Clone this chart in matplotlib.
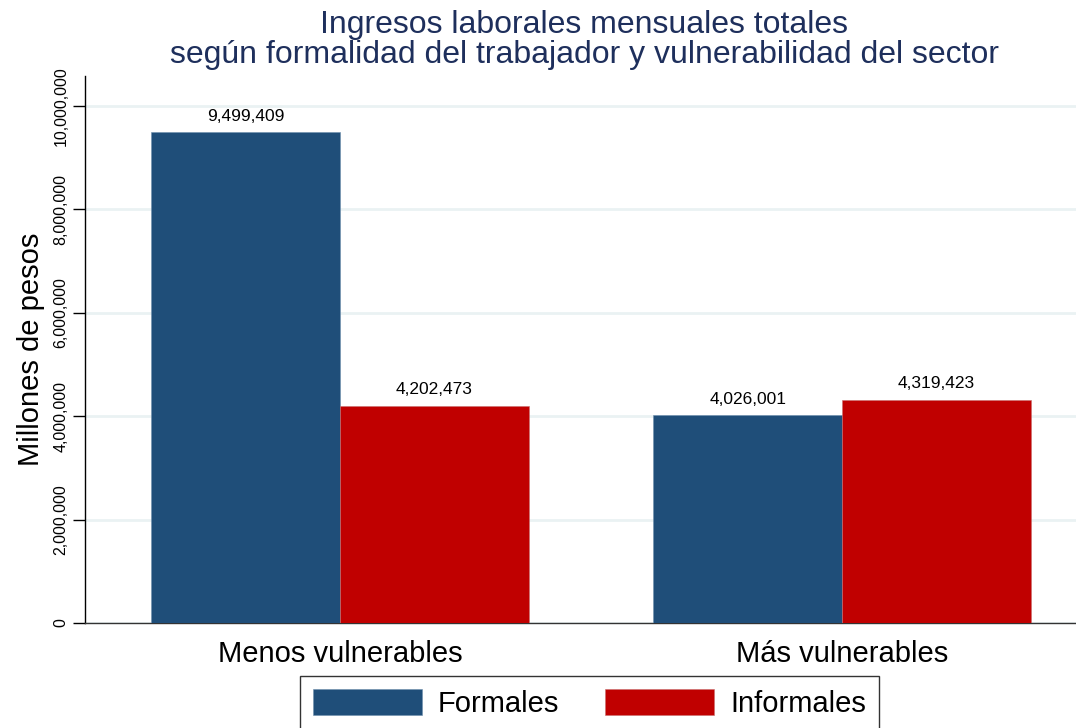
import matplotlib
matplotlib.use("Agg")
import matplotlib.pyplot as plt
import numpy as np
from matplotlib.ticker import FuncFormatter

categories = ["Menos vulnerables", "Más vulnerables"]
series_names = ["Formales", "Informales"]
formales = [9499409, 4026001]
informales = [4202473, 4319423]
yticks = [0, 2000000, 4000000, 6000000, 8000000, 10000000]

plt.rcParams['font.family'] = ['Liberation Sans', 'DejaVu Sans']

fig = plt.figure(figsize=(10.76, 7.28), dpi=100)
ax = fig.add_axes([85/1076, 1 - 623/728, 1 - 85/1076, (623 - 76)/728])

x = np.arange(len(categories))
w = 0.376
blue = "#1F4E79"
red = "#C00000"
b1 = ax.bar(x - w/2, formales, w, color=blue, edgecolor="#6F8FAE", linewidth=0.4, label=series_names[0], zorder=3)
b2 = ax.bar(x + w/2, informales, w, color=red, edgecolor="#C87070", linewidth=0.4, label=series_names[1], zorder=3)

fmt = lambda v: f"{v:,.0f}"
ax.bar_label(b1, labels=[fmt(v) for v in formales], padding=6, fontsize=12.5)
ax.bar_label(b2, labels=[fmt(v) for v in informales], padding=6, fontsize=12.5)

ax.set_xlim(-0.508, 1.466)
ax.set_ylim(0, 10580000)
ax.set_yticks(yticks)
ax.yaxis.set_major_formatter(FuncFormatter(lambda v, p: f"{v:,.0f}"))
ax.tick_params(axis='y', labelrotation=90, length=9, width=1, labelsize=11.5, pad=3)
for lab in ax.get_yticklabels():
    lab.set_va('center')
ax.set_xticks(x)
ax.set_xticklabels(categories, fontsize=21)
ax.tick_params(axis='x', length=0, pad=12)

ax.grid(axis='y', color="#EAF2F3", linewidth=2, zorder=0)
ax.set_axisbelow(True)
for s in ['top', 'right']:
    ax.spines[s].set_visible(False)
ax.spines['left'].set_linewidth(1)
ax.spines['bottom'].set_linewidth(1)
ax.spines['bottom'].set_color("#333333")

ax.set_ylabel("Millones de pesos", fontsize=21)
ax.yaxis.set_label_coords(-0.040, 0.5)

fig.text(584/1076, 1 - 40/728,
         "Ingresos laborales mensuales totales\nsegún formalidad del trabajador y vulnerabilidad del sector",
         ha='center', va='center', fontsize=23, color="#1E2F5C", linespacing=1.03)

leg = fig.legend(handles=[b1, b2], labels=series_names, loc='upper center',
                 bbox_to_anchor=(589.5/1076, 1 - 676/728), ncol=2, fontsize=21,
                 frameon=True, fancybox=False, edgecolor='black', borderaxespad=0,
                 handlelength=3.73, handleheight=1.0, handletextpad=0.55,
                 columnspacing=1.58, borderpad=0.45)
leg.get_frame().set_linewidth(1)

fig.savefig("out.png", dpi=100)
